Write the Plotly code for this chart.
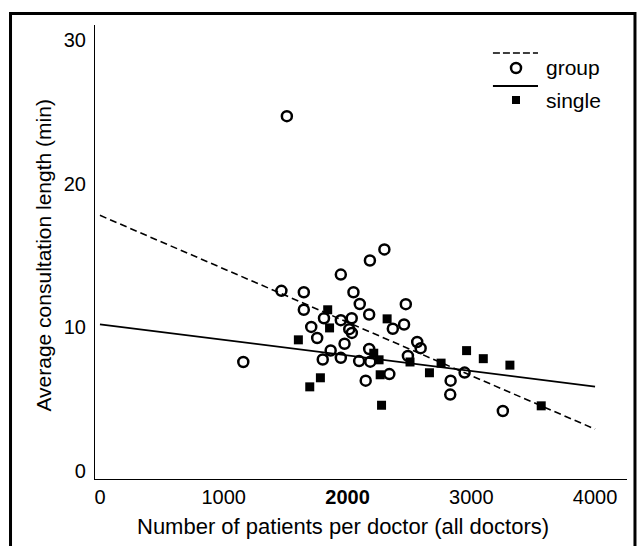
import plotly.graph_objects as go

# ---- data ----
group_x = [1510, 1158, 1466, 1647, 1647, 1707, 1755, 1810, 1946, 1946,
           2034, 2048, 2099, 2175, 2181, 2298, 2014, 2035, 1976, 1864,
           1800, 1946, 2094, 2175, 2184, 2147, 2338, 2366, 2457, 2471,
           2563, 2591, 2488, 2833, 2830, 2946, 3255]
group_y = [24.7, 7.6, 12.55, 12.45, 11.23, 10.04, 9.27, 10.64, 10.51, 13.68,
           10.64, 12.45, 11.63, 10.9, 14.66, 15.43, 9.88, 9.62, 8.87, 8.4,
           7.77, 7.89, 7.66, 8.5, 7.62, 6.3, 6.76, 9.91, 10.21, 11.62,
           8.99, 8.56, 8.02, 6.3, 5.33, 6.86, 4.19]

single_x = [1603, 1695, 1781, 1840, 1855, 2212, 2255, 2264, 2275, 2320,
            2505, 2662, 2756, 2962, 3097, 3312, 3565]
single_y = [9.14, 5.87, 6.5, 11.23, 9.97, 8.21, 7.75, 6.71, 4.59, 10.6,
            7.6, 6.85, 7.52, 8.39, 7.83, 7.38, 4.55]

fit_x = [0, 4000]
group_fit_y = [17.8, 2.93]
single_fit_y = [10.22, 5.89]

x_ticks = [0, 1000, 2000, 3000, 4000]
x_tick_labels = ["0", "1000", "<b>2000</b>", "3000", "4000"]
y_ticks = [0, 10, 20, 30]

FONT = "Liberation Sans, Arial, Helvetica, sans-serif"

fig = go.Figure()
fig.add_trace(go.Scatter(x=fit_x, y=group_fit_y, mode="lines",
                         line=dict(color="black", width=1.6, dash="7px,4px"),
                         showlegend=False, hoverinfo="skip"))
fig.add_trace(go.Scatter(x=fit_x, y=single_fit_y, mode="lines",
                         line=dict(color="black", width=1.8),
                         showlegend=False, hoverinfo="skip"))
fig.add_trace(go.Scatter(x=group_x, y=group_y, mode="markers", name="group",
                         marker=dict(symbol="circle-open", size=10, color="black",
                                     line=dict(width=2.5, color="black")),
                         showlegend=False))
fig.add_trace(go.Scatter(x=single_x, y=single_y, mode="markers", name="single",
                         marker=dict(symbol="square", size=9, color="black"),
                         showlegend=False))

shapes = [
    # outer frame
    dict(type="rect", xref="paper", yref="paper", x0=-0.1588, x1=1.015,
         y0=-0.2, y1=1.0253, line=dict(color="black", width=3)),
    # legend: dashed line sample
    dict(type="line", xref="paper", yref="paper", x0=0.748, x1=0.8327,
         y0=0.9383, y1=0.9383, line=dict(color="black", width=1.6, dash="7px,3px")),
    # legend: open circle
    dict(type="circle", xref="paper", yref="paper", xsizemode="pixel", ysizemode="pixel",
         xanchor=0.7914, yanchor=0.9053, x0=-5, x1=5, y0=-5, y1=5,
         line=dict(color="black", width=2.5)),
    # legend: solid line sample
    dict(type="line", xref="paper", yref="paper", x0=0.748, x1=0.8327,
         y0=0.8656, y1=0.8656, line=dict(color="black", width=1.8)),
    # legend: filled square
    dict(type="rect", xref="paper", yref="paper", xsizemode="pixel", ysizemode="pixel",
         xanchor=0.7914, yanchor=0.8348, x0=-4, x1=4, y0=-4, y1=4,
         fillcolor="black", line=dict(color="black", width=0)),
]

annotations = [
    dict(text="group", xref="paper", yref="paper", x=0.844, y=0.9053,
         xanchor="left", yanchor="middle", showarrow=False,
         font=dict(family=FONT, size=21, color="black")),
    dict(text="single", xref="paper", yref="paper", x=0.844, y=0.8348,
         xanchor="left", yanchor="middle", showarrow=False,
         font=dict(family=FONT, size=21, color="black")),
    dict(text="Number of patients per doctor (all doctors)", xref="x", yref="paper",
         x=1965, y=-0.1057, xanchor="center", yanchor="middle", showarrow=False,
         font=dict(family=FONT, size=22, color="black")),
    dict(text="Average consultation length (min)", xref="paper", yref="y",
         x=-0.0959, y=15, xanchor="center", yanchor="middle", showarrow=False,
         textangle=-90, font=dict(family=FONT, size=21, color="black")),
]

fig.update_layout(
    width=644, height=546,
    margin=dict(l=95, r=17, t=25, b=67),
    paper_bgcolor="white", plot_bgcolor="white",
    font=dict(family=FONT, size=20, color="black"),
    shapes=shapes, annotations=annotations,
    showlegend=False,
)
fig.update_xaxes(range=[-40, 4258], tickvals=x_ticks, ticktext=x_tick_labels,
                 showgrid=False, zeroline=False, showline=True, linecolor="black",
                 linewidth=1.2, ticks="", tickfont=dict(family=FONT, size=20, color="black"))
fig.update_yaxes(range=[-0.54, 31.04], tickvals=y_ticks, ticktext=[str(v) for v in y_ticks],
                 showgrid=False, zeroline=False, showline=True, linecolor="black",
                 linewidth=1.2, ticks="", ticklabelstandoff=4,
                 tickfont=dict(family=FONT, size=20, color="black"))

fig.write_html("out.html", config={"displayModeBar": False},
               post_script="document.body.style.margin='0';document.body.style.overflow='hidden';")
